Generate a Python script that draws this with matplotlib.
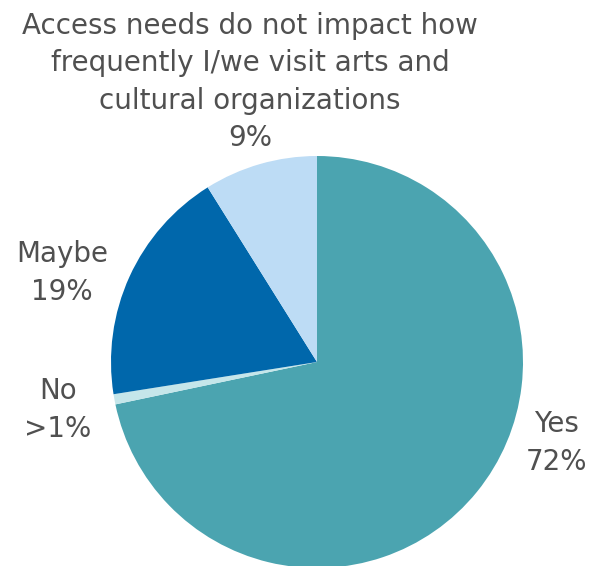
import numpy as np
import matplotlib.pyplot as plt

labels = ['Yes', 'No', 'Maybe',
          'Access needs do not impact how\nfrequently I/we visit arts and\ncultural organizations']
pct_labels = ['72%', '>1%', '19%', '9%']
values = [71.7, 0.8, 18.6, 8.9]
colors = ['#4BA4B0', '#C5E6EA', '#0067AB', '#BDDCF5']

W, H = 590, 566
cx, cy, R = 317, 362, 206

fig = plt.figure(figsize=(W / 100, H / 100), dpi=100)
ax = fig.add_axes([0, 0, 1, 1])
ax.pie(values, colors=colors, startangle=90, counterclock=False, radius=1,
       wedgeprops=dict(linewidth=0))
ax.set_xlim(-cx / R, (W - cx) / R)
ax.set_ylim(-(H - cy) / R, cy / R)
ax.set_aspect('auto')
ax.axis('off')

def px(x, y):
    return ((x - cx) / R, (cy - y) / R)

# label anchor points (pixel coords of text centre)
spots = [(556, 443), (58, 410), (62, 273), (250, 82)]
for lab, pc, (x, y) in zip(labels, pct_labels, spots):
    ax.text(*px(x, y), lab + '\n' + pc, ha='center', va='center',
            fontsize=20, color='#505050', linespacing=1.42,
            family='DejaVu Sans')

fig.savefig('out.png', dpi=100)
